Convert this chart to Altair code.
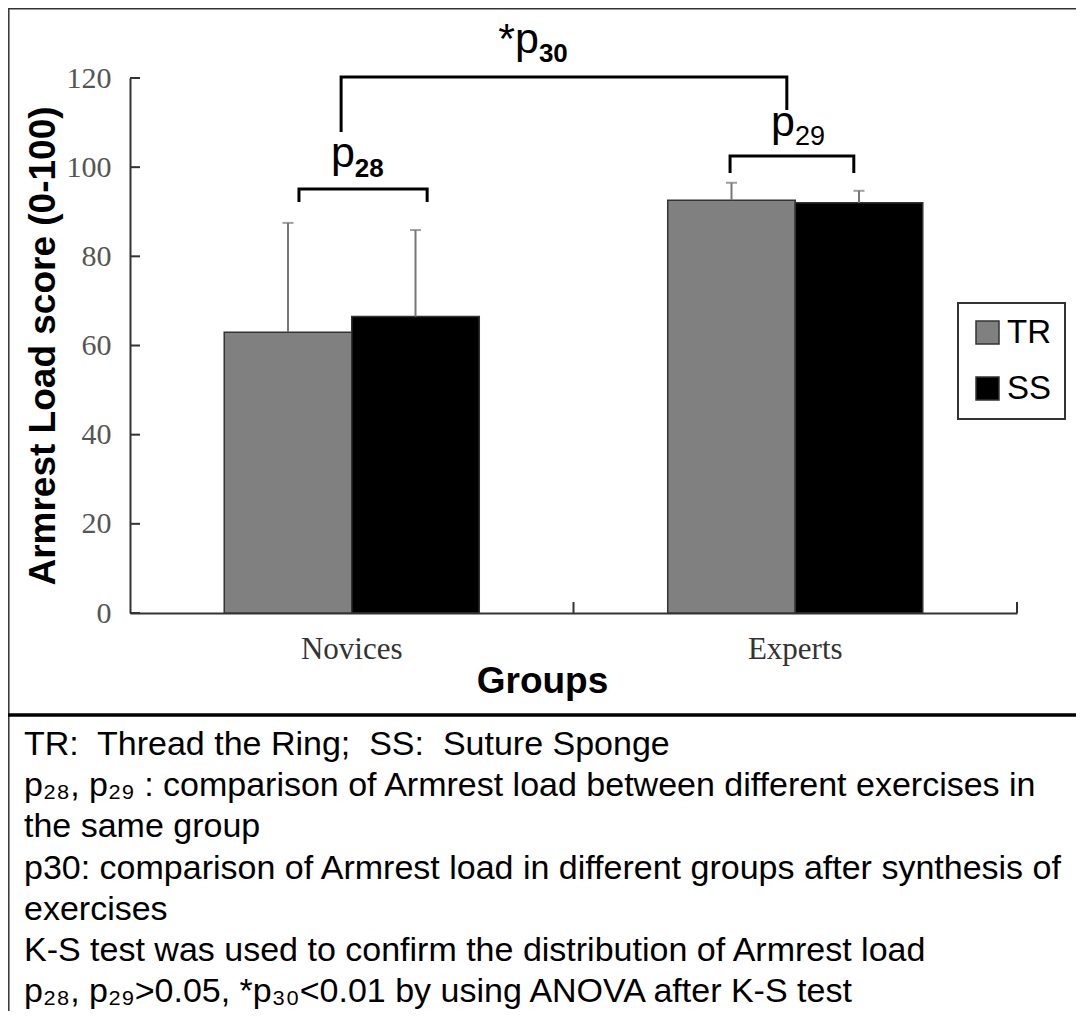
import altair as alt
import pandas as pd

# ---------------- data ----------------
groups = ["Novices", "Experts"]
series = ["TR", "SS"]
mean_tr = [63.0, 92.6]
mean_ss = [66.5, 92.0]
upper_tr = [87.5, 96.5]
upper_ss = [85.9, 94.7]
y_ticks = [0, 20, 40, 60, 80, 100, 120]

# significance brackets (x in group units: Novices 0-1, Experts 1-2; y in score units)
bracket_id = ["p28"] * 4 + ["p29"] * 4 + ["p30"] * 4
bracket_k = [0, 1, 2, 3] * 3
bracket_x = [0.381, 0.381, 0.670, 0.670, 1.353, 1.353, 1.632, 1.632, 0.476, 0.476, 1.481, 1.481]
bracket_y = [92.2, 95.1, 95.1, 92.2, 98.7, 102.5, 102.5, 98.7, 107.9, 120.2, 120.2, 112.8]

label_main = ["p", "p", "*p"]
label_sub = ["28", "29", "30"]
label_x = [0.507, 1.4995, 0.922]
label_main_y = [100.0, 107.1, 125.5]
label_sub_y = [97.8, 105.0, 123.6]
label_sub_bold = [True, False, True]

NB = "\u00a0"
notes = [
    "TR:" + NB + " Thread the Ring;" + NB + " SS:" + NB + " Suture Sponge",
    "p\u2082\u2088, p\u2082\u2089 : comparison of Armrest load between different exercises in",
    "the same group",
    "p30: comparison of Armrest load in different groups after synthesis of",
    "exercises",
    "K-S test was used to confirm the distribution of Armrest load",
    "p\u2082\u2088, p\u2082\u2089>0.05, *p\u2083\u2080<0.01 by using ANOVA after K-S test",
]

# ---------------- tables ----------------
rows = []
for i, g in enumerate(groups):
    rows.append({"group": g, "series": "TR", "mean": mean_tr[i], "upper": upper_tr[i]})
    rows.append({"group": g, "series": "SS", "mean": mean_ss[i], "upper": upper_ss[i]})
df = pd.DataFrame(rows)
ytick_df = pd.DataFrame({"t": y_ticks})
group_df = pd.DataFrame({"group": groups})
bdf = pd.DataFrame({"bid": bracket_id, "k": bracket_k, "bx": bracket_x, "by": bracket_y})
ldf = pd.DataFrame({"lx": label_x, "main": label_main, "sub": label_sub,
                    "my": label_main_y, "sy": label_sub_y, "bold": label_sub_bold})
one = pd.DataFrame({"k": [0]})

YT = "Armrest Load score (0-100)"
XT = "Groups"

xscale = alt.Scale(domain=groups, paddingInner=0, paddingOuter=0)
xoff_scale = alt.Scale(domain=series, paddingInner=0, paddingOuter=0.739)
yscale = alt.Scale(domain=[0, 120], nice=False, zero=True)
color_scale = alt.Scale(domain=series, range=["#808080", "#000000"])
qx = alt.Scale(domain=[0, 2], nice=False, zero=False)

x_axis = alt.Axis(
    title=XT, labelAngle=0, labelFont="Liberation Serif", labelFontSize=31,
    labelColor="#333333", labelPadding=21, ticks=False, tickSize=0,
    domainColor="#333333", domainWidth=2, grid=False,
    titleFont="Liberation Sans", titleFontSize=37, titleFontWeight="bold",
    titleColor="black", titleX=412, titleY=79, titleBaseline="alphabetic",
    titleAlign="center",
)
y_axis = alt.Axis(
    title=YT, values=y_ticks, labelFont="Liberation Serif", labelFontSize=30,
    labelColor="#555555", labelPadding=19, ticks=False, tickSize=0,
    domainColor="#333333", domainWidth=2, grid=False,
    titleFont="Liberation Sans", titleFontSize=37, titleFontWeight="bold",
    titleColor="black", titleX=-76, titleY=267.5, titleAngle=270,
    titleAlign="center", titleBaseline="alphabetic",
)

X = alt.X("group:N", scale=xscale, sort=groups, axis=x_axis, title=XT)
XO = alt.XOffset("series:N", scale=xoff_scale, sort=series)

bars = alt.Chart(df).mark_bar(stroke="#333333", strokeWidth=1.5).encode(
    x=X,
    xOffset=XO,
    y=alt.Y("mean:Q", scale=yscale, axis=y_axis, title=YT),
    color=alt.Color(
        "series:N", scale=color_scale, sort=series,
        legend=alt.Legend(
            title=None, orient="none", legendX=828, legendY=225,
            direction="vertical", symbolType="square", symbolSize=529,
            symbolStrokeColor="#333333", symbolStrokeWidth=1.5,
            labelFont="Liberation Sans", labelFontSize=33, labelColor="black",
            labelOffset=3, rowPadding=22, padding=13,
            strokeColor="#333333", fillColor="white",
        ),
    ),
)

err_rule = alt.Chart(df).mark_rule(color="#777777", strokeWidth=2).encode(
    x=X, xOffset=XO,
    y=alt.Y("mean:Q", scale=yscale, title=YT),
    y2="upper:Q",
)
err_cap = alt.Chart(df).mark_tick(color="#777777", thickness=2, size=11, orient="horizontal").encode(
    x=X, xOffset=XO,
    y=alt.Y("upper:Q", scale=yscale, title=YT),
)
y_in_ticks = alt.Chart(ytick_df).mark_rule(color="#333333", strokeWidth=2).encode(
    x=alt.value(0), x2=alt.value(10),
    y=alt.Y("t:Q", scale=yscale, title=YT),
)
x_in_ticks = alt.Chart(group_df).mark_rule(color="#333333", strokeWidth=2).encode(
    x=alt.X("group:N", scale=xscale, sort=groups, bandPosition=1, axis=x_axis, title=XT),
    y=alt.value(524), y2=alt.value(535),
)

inner = alt.layer(bars, err_rule, err_cap, y_in_ticks, x_in_ticks)

QX = lambda f: alt.X(f, scale=qx, axis=None)

brackets = alt.Chart(bdf).mark_line(color="black", strokeWidth=3, strokeJoin="miter").encode(
    x=QX("bx:Q"),
    y=alt.Y("by:Q", scale=yscale, title=YT),
    detail="bid:N",
    order="k:Q",
)
main_txt = alt.Chart(ldf).mark_text(
    align="right", baseline="alphabetic", font="Liberation Sans", fontSize=43, color="black"
).encode(x=QX("lx:Q"), y=alt.Y("my:Q", scale=yscale, title=YT), text="main:N")
sub_bold = alt.Chart(ldf).transform_filter("datum.bold").mark_text(
    align="left", baseline="alphabetic", font="Liberation Sans", fontSize=26,
    fontWeight="bold", color="black"
).encode(x=QX("lx:Q"), y=alt.Y("sy:Q", scale=yscale, title=YT), text="sub:N")
sub_reg = alt.Chart(ldf).transform_filter("!datum.bold").mark_text(
    align="left", baseline="alphabetic", font="Liberation Sans", fontSize=27, color="black"
).encode(x=QX("lx:Q"), y=alt.Y("sy:Q", scale=yscale, title=YT), text="sub:N")

frame_top = alt.Chart(one).mark_rule(color="#333333", strokeWidth=1.5).encode(
    x=alt.value(-122), x2=alt.value(946), y=alt.value(-69.2))
frame_left = alt.Chart(one).mark_rule(color="#333333", strokeWidth=1.5).encode(
    x=alt.value(-121.2), y=alt.value(-70), y2=alt.value(933))
divider = alt.Chart(one).mark_rule(color="black", strokeWidth=3.5).encode(
    x=alt.value(-122), x2=alt.value(946), y=alt.value(637))
notes_txt = alt.Chart(one).mark_text(
    align="left", baseline="alphabetic", font="Liberation Sans", fontSize=34,
    lineHeight=41.2, color="black"
).encode(x=alt.value(-106), y=alt.value(677), text=alt.value(notes))

annot = alt.layer(brackets, main_txt, sub_bold, sub_reg, frame_top, frame_left, divider, notes_txt)

chart = alt.layer(inner, annot).resolve_scale(x="independent").properties(
    width=887, height=535,
    padding={"left": 122, "top": 70, "right": 59, "bottom": 398},
    autosize=alt.AutoSizeParams(type="none"),
    background="white",
).configure_view(stroke=None).configure_legend(strokeWidth=2)

chart.save("out.html", embed_options={"renderer": "svg", "actions": False})
